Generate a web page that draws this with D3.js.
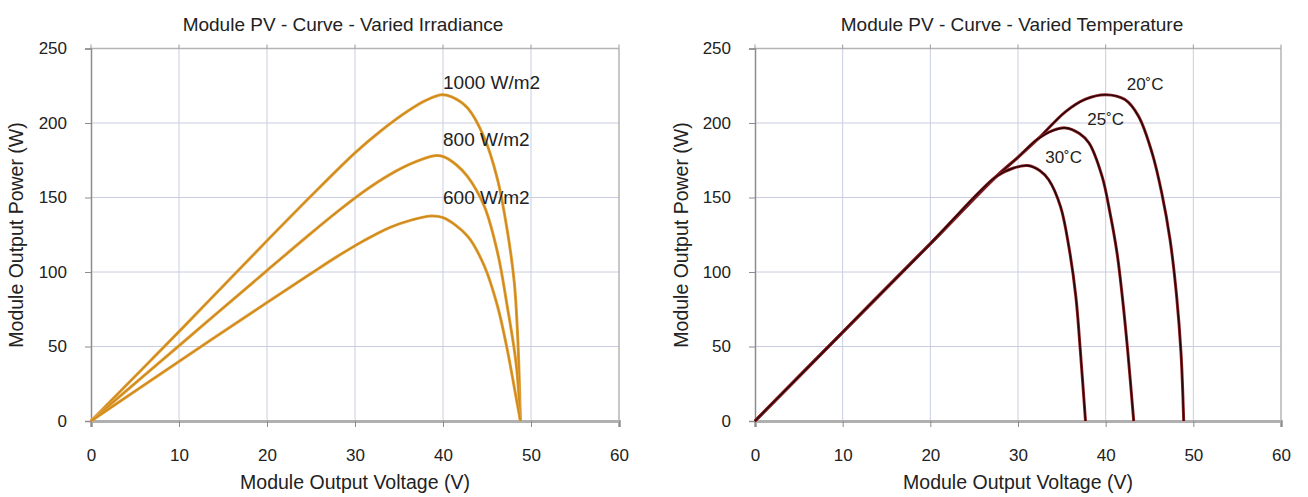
<!DOCTYPE html>
<html>
<head>
<meta charset="utf-8">
<script src="https://cdn.jsdelivr.net/npm/d3@7"></script>
<style>
  html, body { margin: 0; padding: 0; background: #fff; }
  svg { display: block; }
  text { font-family: 'Liberation Sans', 'Open Sans', sans-serif; fill: #222; }
</style>
</head>
<body>
<svg id="chart" width="1308" height="497"></svg>
<script>
// ── Data (V, W) ──────────────────────────────────────────────────────────────
const voltTicks  = [0, 10, 20, 30, 40, 50, 60];
const powerTicks = [0, 50, 100, 150, 200, 250];

const irr1000 = [[0,0],[10,60],[20,121],[25,151],[30,180],[33,195],[36,208],[38,215],[39.8,219],
                 [41,217.5],[42.8,210],[44.7,190],[46.2,162],[47.3,128],[48.1,93],[48.5,55],[48.8,0]];
const irr800  = [[0,0],[10,50.5],[20,101],[25,126],[28,140.5],[31,154],[34,165.5],[36.5,173],[39,178],[40,177.5],
                 [41.5,172],[42.8,164],[44.7,144],[46.2,113],[47.3,77],[48.3,39],[48.8,0]];
const irr600  = [[0,0],[10,40],[20,79.5],[25,99],[28,110.5],[31,121],[34,130],[36.5,135],[38.5,137.5],[40,136.5],
                 [42.8,124],[44.7,104],[46.2,77],[47.3,48],[48.3,16],[48.8,0]];

const temp20 = [[0,0],[10,59.6],[20,119],[27.5,164],[30,177],[32.4,190],[35.4,207.5],[37.7,216],[40,219],
                [42.2,215.7],[43.75,204.5],[45.3,179.8],[46.4,152.9],[47.35,121.5],[48.1,83.4],[48.6,45],[48.9,0]];
const temp25 = [[0,0],[10,59.6],[20,119],[27.5,164],[30,177],[32.2,189],[34,195],[35.4,196.7],[37,193],[38.1,186.6],
                [39.6,164],[40.5,139.5],[41.3,112.6],[41.9,83.4],[42.5,48],[43.2,0]];
const temp30 = [[0,0],[10,59.6],[20,119],[27.5,164],[29.5,169.8],[31.1,171.4],[32.5,168],[33.5,161.9],[34.85,143.9],
                [35.8,117],[36.6,83.4],[37.1,48],[37.7,0]];

const irrLabels  = [['1000 W/m2', 40, 226], ['800 W/m2', 40, 188], ['600 W/m2', 40, 149]];
const tempLabels = [['20˚C', 42.4, 225], ['25˚C', 37.9, 202], ['30˚C', 33.1, 176]];

// ── Panel ────────────────────────────────────────────────────────────────────
const svg = d3.select('#chart');

function drawPanel(p) {
  const x = d3.scaleLinear().domain([0, 60]).range([p.left, p.right]);
  const y = d3.scaleLinear().domain([0, 250]).range([421, 48.5]);
  const g = svg.append('g');

  // grid
  g.selectAll('.vg').data(voltTicks.slice(1, -1)).enter().append('line')
    .attr('x1', d => x(d)).attr('x2', d => x(d)).attr('y1', y(250)).attr('y2', y(0))
    .attr('stroke', '#c9cde0').attr('stroke-width', 1);
  g.selectAll('.hg').data(powerTicks.slice(1, -1)).enter().append('line')
    .attr('x1', x(0)).attr('x2', x(60)).attr('y1', d => y(d)).attr('y2', d => y(d))
    .attr('stroke', '#c9cde0').attr('stroke-width', 1);

  // frame
  g.append('line').attr('x1', x(0)).attr('x2', x(60)).attr('y1', y(250)).attr('y2', y(250))
    .attr('stroke', '#b4b4b4').attr('stroke-width', 1.5);
  g.append('line').attr('x1', x(60)).attr('x2', x(60)).attr('y1', y(250)).attr('y2', y(0))
    .attr('stroke', '#b4b4b4').attr('stroke-width', 1.5);

  // top ticks
  g.selectAll('.tt').data(voltTicks).enter().append('line')
    .attr('x1', d => x(d)).attr('x2', d => x(d)).attr('y1', y(250) - 4).attr('y2', y(250))
    .attr('stroke', '#9a9a9a').attr('stroke-width', 1);

  // axes
  const xAxis = g.append('g').attr('transform', `translate(0,${y(0)})`)
    .call(d3.axisBottom(x).tickValues(voltTicks).tickSize(6).tickPadding(22));
  const yAxis = g.append('g').attr('transform', `translate(${x(0)},0)`)
    .call(d3.axisLeft(y).tickValues(powerTicks).tickSize(6).tickPadding(18));
  xAxis.select('.domain').attr('stroke', '#b0b0b0').attr('stroke-width', 3);
  yAxis.select('.domain').attr('stroke', '#8c8c8c').attr('stroke-width', 1.5);
  [xAxis, yAxis].forEach(a => {
    a.selectAll('.tick line').attr('stroke', '#8c8c8c');
    a.selectAll('.tick text').style('font-size', '17px').attr('fill', '#222');
  });

  // curves
  const line = d3.line().x(d => x(d[0])).y(d => y(d[1])).curve(d3.curveCatmullRom.alpha(0.5));
  p.series.forEach(s => {
    g.append('path').datum(s).attr('d', line).attr('fill', 'none')
      .attr('stroke', p.edge).attr('stroke-width', 3).attr('stroke-linejoin', 'round');
    g.append('path').datum(s).attr('d', line).attr('fill', 'none')
      .attr('stroke', p.color).attr('stroke-width', 1.6).attr('stroke-linejoin', 'round');
  });

  // curve labels
  g.selectAll('.lab').data(p.labels).enter().append('text')
    .attr('x', d => x(d[1])).attr('y', d => y(d[2]))
    .attr('dominant-baseline', 'middle')
    .style('font-size', p.labelSize)
    .text(d => d[0]);

  // titles
  g.append('text').attr('x', p.titleX).attr('y', 26).attr('text-anchor', 'middle')
    .attr('dominant-baseline', 'middle').style('font-size', '19px').text(p.title);
  g.append('text').attr('x', (x(0) + x(60)) / 2).attr('y', 484).attr('text-anchor', 'middle')
    .attr('dominant-baseline', 'middle').style('font-size', '19.5px').text('Module Output Voltage (V)');
  g.append('text').attr('transform', `translate(${p.yTitleX},235) rotate(-90)`)
    .attr('text-anchor', 'middle').attr('dominant-baseline', 'middle')
    .style('font-size', '19.5px').text('Module Output Power (W)');
}

drawPanel({
  left: 91, right: 619, titleX: 343, yTitleX: 18,
  title: 'Module PV - Curve - Varied Irradiance',
  series: [irr1000, irr800, irr600], labels: irrLabels, labelSize: '19px',
  color: '#d08a1a', edge: '#e3a647'
});
drawPanel({
  left: 755, right: 1281, titleX: 1012, yTitleX: 683,
  title: 'Module PV - Curve - Varied Temperature',
  series: [temp20, temp25, temp30], labels: tempLabels, labelSize: '17px',
  color: '#2a0508', edge: '#9a2a2e'
});
</script>
</body>
</html>
